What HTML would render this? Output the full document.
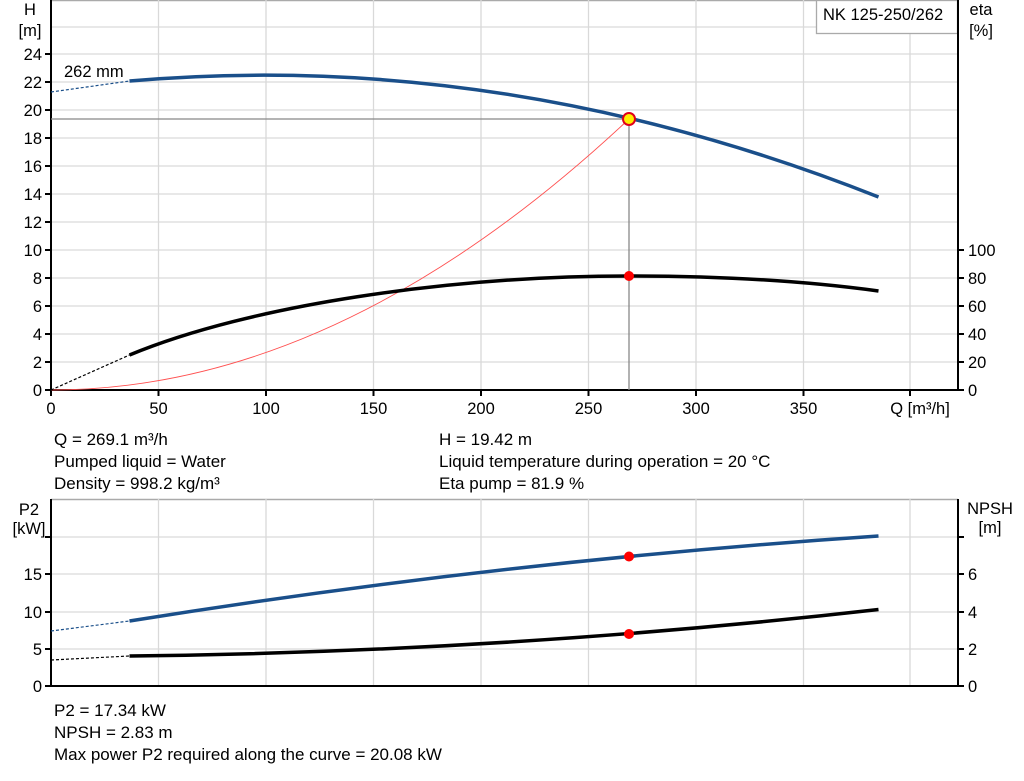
<!DOCTYPE html>
<html><head><meta charset="utf-8"><style>
body{margin:0;background:#fff}
svg{display:block;font-family:"Liberation Sans",Arial,sans-serif;font-size:16.5px;fill:#000}
.info{font-size:17px}
</style></head><body>
<svg width="1024" height="781" viewBox="0 0 1024 781" xmlns="http://www.w3.org/2000/svg">
<g stroke="#d9d9d9" stroke-width="1.3">
<line x1="51" y1="0.5" x2="958" y2="0.5" stroke="#aaa" stroke-width="1.5"/>
<line x1="51" y1="362" x2="958" y2="362"/><line x1="51" y1="334" x2="958" y2="334"/><line x1="51" y1="306" x2="958" y2="306"/><line x1="51" y1="278" x2="958" y2="278"/><line x1="51" y1="250" x2="958" y2="250"/><line x1="51" y1="222" x2="958" y2="222"/><line x1="51" y1="194" x2="958" y2="194"/><line x1="51" y1="166" x2="958" y2="166"/><line x1="51" y1="138" x2="958" y2="138"/><line x1="51" y1="110" x2="958" y2="110"/><line x1="51" y1="82" x2="958" y2="82"/><line x1="51" y1="54" x2="958" y2="54"/><line x1="51" y1="27" x2="958" y2="27"/>
<line x1="158.5" y1="0" x2="158.5" y2="390"/><line x1="266" y1="0" x2="266" y2="390"/><line x1="373.5" y1="0" x2="373.5" y2="390"/><line x1="481" y1="0" x2="481" y2="390"/><line x1="588.5" y1="0" x2="588.5" y2="390"/><line x1="696" y1="0" x2="696" y2="390"/><line x1="803.5" y1="0" x2="803.5" y2="390"/><line x1="910" y1="0" x2="910" y2="390"/>
<line x1="51" y1="499.5" x2="958" y2="499.5" stroke="#aaa" stroke-width="1.5"/>
<line x1="51" y1="649" x2="958" y2="649"/><line x1="51" y1="612" x2="958" y2="612"/><line x1="51" y1="574" x2="958" y2="574"/><line x1="51" y1="537" x2="958" y2="537"/>
<line x1="158.5" y1="499" x2="158.5" y2="686"/><line x1="266" y1="499" x2="266" y2="686"/><line x1="373.5" y1="499" x2="373.5" y2="686"/><line x1="481" y1="499" x2="481" y2="686"/><line x1="588.5" y1="499" x2="588.5" y2="686"/><line x1="696" y1="499" x2="696" y2="686"/><line x1="803.5" y1="499" x2="803.5" y2="686"/><line x1="910" y1="499" x2="910" y2="686"/>
</g>
<rect x="816.5" y="0.5" width="141" height="33" fill="#fff" stroke="#aaa" stroke-width="1.3"/>
<text x="823" y="20">NK 125-250/262</text>
<g stroke="#000" stroke-width="2" fill="none">
<line x1="51" y1="0" x2="51" y2="391"/><line x1="50" y1="390" x2="958" y2="390"/><line x1="958" y1="0" x2="958" y2="391"/>
<path d="M45 362H51M45 334H51M45 306H51M45 278H51M45 250H51M45 222H51M45 194H51M45 166H51M45 138H51M45 110H51M45 82H51M45 54H51M45 390H51"/>
<path d="M958 390H964M958 362H964M958 334H964M958 306H964M958 278H964M958 250H964"/>
<path d="M51 390V396M158.5 390V396M266 390V396M373.5 390V396M481 390V396M588.5 390V396M696 390V396M803.5 390V396M910 390V396"/>
<line x1="51" y1="499" x2="51" y2="687"/><line x1="50" y1="686" x2="958" y2="686"/><line x1="958" y1="499" x2="958" y2="687"/>
<path d="M45 686H51M45 649H51M45 612H51M45 574H51M45 537H51M958 686H964M958 649H964M958 612H964M958 574H964M958 537H964"/>
</g>
<g text-anchor="middle">
<text x="30" y="15">H</text><text x="30" y="36">[m]</text>
<text x="981" y="15">eta</text><text x="981" y="36">[%]</text>
<text x="29" y="515">P2</text><text x="29" y="534">[kW]</text>
<text x="990" y="514">NPSH</text><text x="990" y="533">[m]</text>
<text x="51" y="414">0</text><text x="158.5" y="414">50</text><text x="266" y="414">100</text><text x="373.5" y="414">150</text><text x="481" y="414">200</text><text x="588.5" y="414">250</text><text x="696" y="414">300</text><text x="803.5" y="414">350</text><text x="920" y="414">Q [m³/h]</text>
</g>
<g text-anchor="end">
<text x="42" y="396">0</text><text x="42" y="368">2</text><text x="42" y="340">4</text><text x="42" y="312">6</text><text x="42" y="284">8</text><text x="42" y="256">10</text><text x="42" y="228">12</text><text x="42" y="200">14</text><text x="42" y="172">16</text><text x="42" y="144">18</text><text x="42" y="116">20</text><text x="42" y="88">22</text><text x="42" y="60">24</text>
<text x="42" y="692">0</text><text x="42" y="655">5</text><text x="42" y="618">10</text><text x="42" y="580">15</text>
</g>
<g>
<text x="968" y="396">0</text><text x="968" y="368">20</text><text x="968" y="340">40</text><text x="968" y="312">60</text><text x="968" y="284">80</text><text x="968" y="256">100</text>
<text x="968" y="692">0</text><text x="968" y="655">2</text><text x="968" y="618">4</text><text x="968" y="580">6</text>
<text x="64" y="77">262 mm</text>
</g>
<g stroke="#888" stroke-width="1.3"><line x1="51" y1="119" x2="629" y2="119"/><line x1="629" y1="119" x2="629" y2="390"/></g>
<path d="M51 390Q340 390 629 119" stroke="#ff5050" stroke-width="0.9" fill="none"/>
<path d="M51 92L129.5 81" stroke="#1a4f8a" stroke-width="1.2" stroke-dasharray="3,2" fill="none"/>
<path d="M129.5 81Q504 48.5 878.5 197" stroke="#1a4f8a" stroke-width="3.5" fill="none"/>
<path d="M51 390L129.5 355" stroke="#000" stroke-width="1.2" stroke-dasharray="3,2" fill="none"/>
<path d="M129.5 355C250 305 450 276 629 276C740 276 820 283 878.5 291" stroke="#000" stroke-width="3.5" fill="none"/>
<path d="M51 631L129.5 621" stroke="#1a4f8a" stroke-width="1.2" stroke-dasharray="3,2" fill="none"/>
<path d="M129.5 621Q504 560.9 878.5 536" stroke="#1a4f8a" stroke-width="3.5" fill="none"/>
<path d="M51 660L129.5 656" stroke="#000" stroke-width="1.2" stroke-dasharray="3,2" fill="none"/>
<path d="M129.5 656Q504 652 878.5 609.5" stroke="#000" stroke-width="3.5" fill="none"/>
<circle cx="629" cy="119" r="6" fill="#ffee00" stroke="#e0001a" stroke-width="2"/>
<circle cx="629" cy="276" r="5" fill="#f00"/>
<circle cx="629" cy="556.5" r="5" fill="#f00"/>
<circle cx="629" cy="634" r="5" fill="#f00"/>
<g class="info">
<text x="54" y="445">Q = 269.1 m³/h</text>
<text x="54" y="467">Pumped liquid = Water</text>
<text x="54" y="489">Density = 998.2 kg/m³</text>
<text x="439" y="445">H = 19.42 m</text>
<text x="439" y="467">Liquid temperature during operation = 20 °C</text>
<text x="439" y="489">Eta pump = 81.9 %</text>
<text x="54" y="716">P2 = 17.34 kW</text>
<text x="54" y="738">NPSH = 2.83 m</text>
<text x="54" y="760">Max power P2 required along the curve = 20.08 kW</text>
</g>
</svg>
</body></html>
